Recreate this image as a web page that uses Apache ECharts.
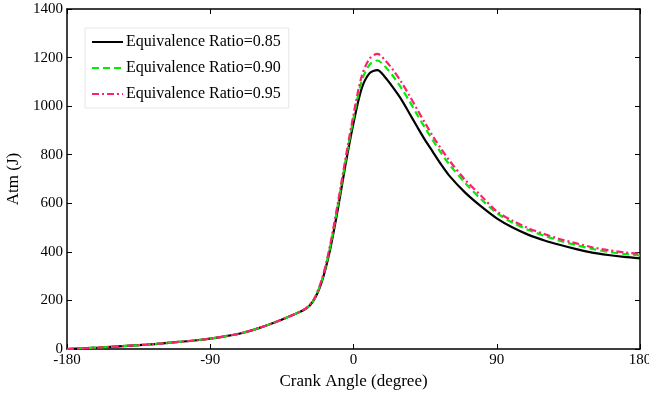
<!DOCTYPE html>
<html><head><meta charset="utf-8">
<script src="https://cdn.jsdelivr.net/npm/echarts@6/dist/echarts.min.js"></script>
<style>html,body{margin:0;padding:0;background:#fff}#c{width:649px;height:394px}</style>
</head><body><div id="c"></div>
<script>
const crankAngle = [-180,-170,-160,-150,-140,-130,-120,-110,-100,-90,-80,-70,-60,-50,-40,-30,-25,-20,-15,-10,-5,0,5,10,15,20,25,30,35,40,45,50,55,60,70,80,90,100,110,120,130,140,150,160,170,180];
const ratio085 = [0,3,6,10,14,18,23,29,35,43,53,66,85,108,135,165,200,275,400,570,760,930,1070,1135,1148,1118,1075,1028,972,915,860,810,760,715,645,588,538,500,470,447,428,411,397,387,379,373];
const ratio090 = [0,3,6,10,14,18,23,29,35,43,53,66,85,108,135,166,202,280,410,585,775,950,1100,1170,1188,1162,1122,1075,1022,965,910,858,808,762,685,618,560,520,490,466,445,428,412,400,392,385];
const ratio095 = [0,3,6,10,14,18,23,29,35,43,53,66,85,108,135,167,204,284,418,595,785,965,1120,1195,1215,1188,1148,1100,1045,987,930,875,825,778,698,632,567,528,497,473,452,435,419,407,398,392];
const seriesNames = ['Equivalence Ratio=0.85','Equivalence Ratio=0.90','Equivalence Ratio=0.95'];
const xTicks = [-180,-90,0,90,180];
const yTicks = [0,200,400,600,800,1000,1200,1400];

const font = 'Liberation Serif';
const pair = a => crankAngle.map((x,i)=>[x,a[i]]);
const chart = echarts.init(document.getElementById('c'));
const axisCommon = {
  axisLine:{show:true,onZero:false,lineStyle:{color:'#000',width:1.5}},
  axisTick:{show:true,inside:true,length:5,lineStyle:{color:'#000'}},
  splitLine:{show:false}
};
chart.setOption({
  animation:false,
  grid:{left:67,right:9,top:9,bottom:45,outerBoundsMode:'none',containLabel:false},
  legend:{
    orient:'vertical',left:85,top:28,
    data:seriesNames,
    itemWidth:31,itemHeight:12,itemGap:10,
    padding:[6,8,6,6],
    borderColor:'#e6e6e6',borderWidth:1,backgroundColor:'#fff',
    itemStyle:{opacity:0},
    textStyle:{fontFamily:font,fontSize:16,color:'#000',padding:[0,0,0,-2]}
  },
  xAxis:[
    Object.assign({type:'value',min:xTicks[0],max:xTicks[xTicks.length-1],interval:90,
      name:'Crank Angle (degree)',nameLocation:'middle',nameGap:24,
      nameTextStyle:{fontFamily:font,fontSize:17,color:'#000'},
      axisLabel:{fontFamily:font,fontSize:15,color:'#000',margin:4,formatter:v=>String(v)}},axisCommon),
    Object.assign({type:'value',position:'top',min:-180,max:180,interval:90,axisLabel:{show:false}},axisCommon)
  ],
  yAxis:[
    Object.assign({type:'value',min:yTicks[0],max:yTicks[yTicks.length-1],interval:200,
      name:'Atm (J)',nameLocation:'middle',nameGap:40,
      nameTextStyle:{fontFamily:font,fontSize:17,color:'#000'},
      axisLabel:{fontFamily:font,fontSize:15,color:'#000',margin:4,formatter:v=>String(v)}},axisCommon),
    Object.assign({type:'value',position:'right',min:0,max:1400,interval:200,axisLabel:{show:false}},axisCommon)
  ],
  series:[
    {name:seriesNames[0],type:'line',data:pair(ratio085),smooth:0.3,showSymbol:false,
      lineStyle:{color:'#000',width:2.2},itemStyle:{color:'#000'}},
    {name:seriesNames[1],type:'line',data:pair(ratio090),smooth:0.3,showSymbol:false,
      lineStyle:{color:'#00ee00',width:2.2,type:[7,4]},itemStyle:{color:'#00ee00'}},
    {name:seriesNames[2],type:'line',data:pair(ratio095),smooth:0.3,showSymbol:false,
      lineStyle:{color:'#ff1f6e',width:2.2,type:[7,3,2,3]},itemStyle:{color:'#ff1f6e'}}
  ]
});
</script></body></html>
